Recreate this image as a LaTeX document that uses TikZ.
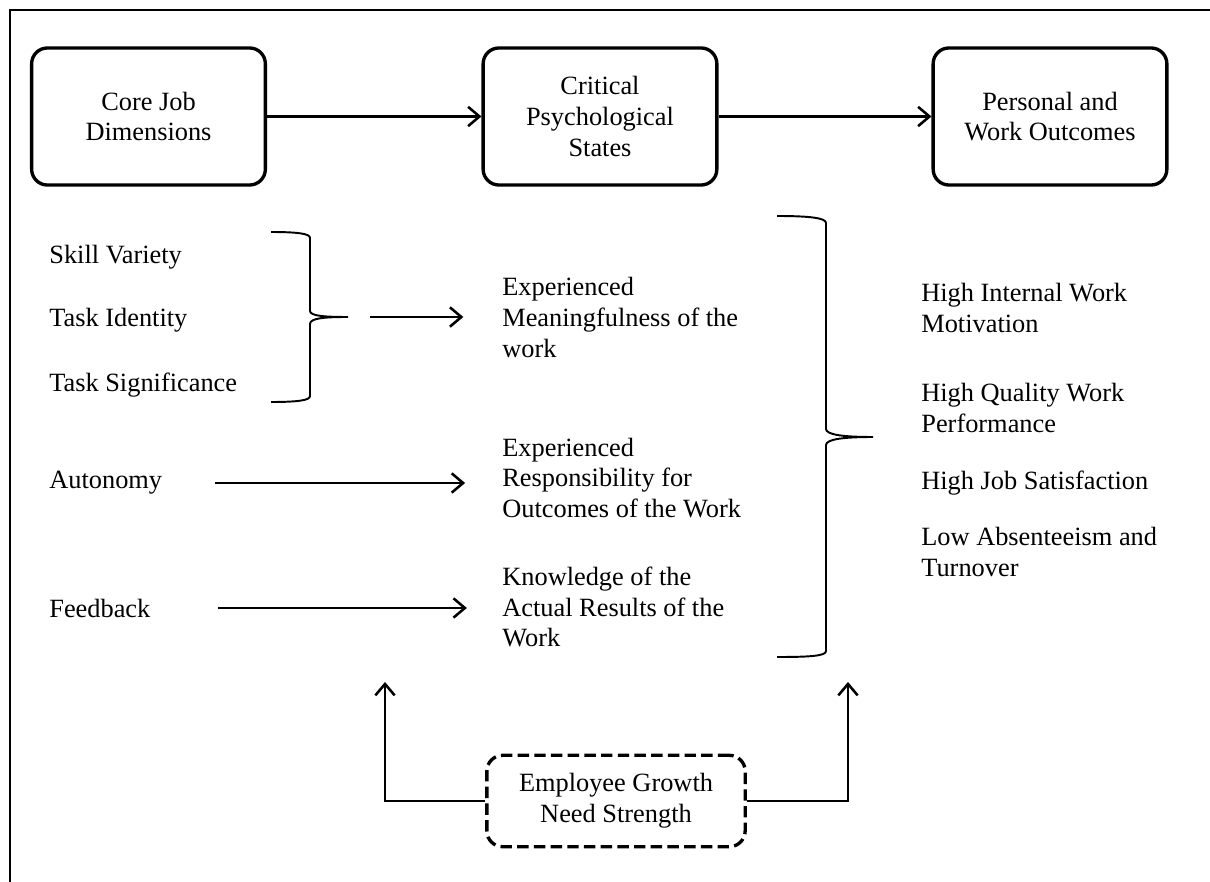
\documentclass[tikz,border=0pt]{standalone}
\usepackage{fontspec}
\setmainfont{Liberation Serif}
\usetikzlibrary{positioning,arrows.meta}

\begin{document}
\begin{tikzpicture}[scale=0.2]
\tikzstyle{every node}+=[inner sep=0pt, font=\fontsize{15}{17.5}\selectfont]
\tikzstyle{stagebox}=[draw, line width=1.9pt, rounded corners=9pt, minimum width=133pt, minimum height=78pt, align=center]
\tikzstyle{growthbox}=[stagebox, dash pattern=on 6.5pt off 3pt, minimum width=147pt, minimum height=52pt]
\tikzstyle{item}=[anchor=west, align=left]
\tikzstyle{conn}=[line width=1.45pt, -{Straight Barb[length=6.5pt,width=11pt]}]
\tikzstyle{brace}=[line width=1.1pt]
\useasboundingbox (0,0) rectangle (121,-88.2);
\draw [line width=1.2pt] (1,-88.2) -- (1,-1) -- (121,-1);
% model stages
\node [stagebox] (core) at (14.85,-11.65) {Core Job\\Dimensions};
\node [stagebox] (critical) at (60,-11.65) {Critical\\Psychological\\States};
\node [stagebox] (outcomes) at (105,-11.65) {Personal and\\Work Outcomes};
\draw [conn] (core) -- (critical);
\draw [conn] (critical) -- (outcomes);
% core job dimensions
\node [item] (skill) at (4.9,-25.7) {Skill Variety};
\node [item] (identity) at (4.9,-32) {Task Identity};
\node [item] (significance) at (4.9,-38.5) {Task Significance};
\node [item] (autonomy) at (4.9,-48.3) {Autonomy};
\node [item] (feedback) at (4.9,-60.8) {Feedback};
% psychological states
\node [item] (meaning) at (50.2,-31.75) {Experienced\\Meaningfulness of the\\work};
\node [item] (respons) at (50.2,-47.8) {Experienced\\Responsibility for\\Outcomes of the Work};
\node [item] (knowledge) at (50.2,-60.7) {Knowledge of the\\Actual Results of the\\Work};
% outcomes
\node [item] (motivation) at (92.1,-30.8) {High Internal Work\\Motivation};
\node [item] (performance) at (92.1,-40.8) {High Quality Work\\Performance};
\node [item] (satisfaction) at (92.1,-48.3) {High Job Satisfaction};
\node [item] (turnover) at (92.1,-55.2) {Low Absenteeism and\\Turnover};
% braces
\coordinate (tip1) at (34.8,-31.7);
\coordinate (tip2) at (87.3,-43.7);
\draw [brace] (27.1,-23.2) .. controls (30,-23.2) and (31,-23.4) .. (31,-23.8) -- (31,-31.1)
  .. controls (31,-31.6) and (32.5,-31.7) .. (tip1) .. controls (32.5,-31.7) and (31,-31.8) .. (31,-32.4)
  -- (31,-39.6) .. controls (31,-40) and (30,-40.2) .. (27.1,-40.2);
\draw [brace] (77.7,-21.6) .. controls (81,-21.6) and (82.6,-21.8) .. (82.6,-22.3) -- (82.6,-42.9)
  .. controls (82.6,-43.5) and (84.5,-43.7) .. (tip2) .. controls (84.5,-43.7) and (82.6,-43.9) .. (82.6,-44.5)
  -- (82.6,-65.1) .. controls (82.6,-65.6) and (81,-65.7) .. (77.7,-65.7);
\draw [conn, shorten <=12.5pt, shorten >=22pt] (tip1) -- (tip1 -| meaning.west);
\draw [conn, shorten <=30pt, shorten >=21pt] (autonomy.east) -- (autonomy.east -| respons.west);
\draw [conn, shorten <=38.5pt, shorten >=20pt] (feedback.east) -- (feedback.east -| knowledge.west);
% moderator
\node [growthbox] (growth) at (61.6,-80.1) {Employee Growth\\Need Strength};
\coordinate (up1) at (38.5,-68.2);
\coordinate (up2) at (84.8,-68.2);
\draw [conn] (growth.west) -| (up1);
\draw [conn] (growth.east) -| (up2);
\end{tikzpicture}
\end{document}
